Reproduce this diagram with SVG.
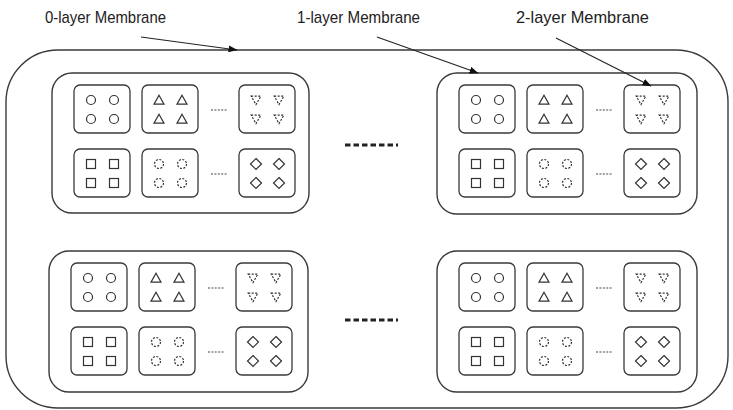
<svg xmlns="http://www.w3.org/2000/svg" xmlns:xlink="http://www.w3.org/1999/xlink" width="733" height="410" viewBox="0 0 733 410">
<style>
.mem{fill:none;stroke:#3a3a3a;stroke-width:1.4}
.box{fill:#fff;stroke:#3a3a3a;stroke-width:1.3}
.sh{fill:none;stroke:#333;stroke-width:1.2}
.dsh{fill:none;stroke:#333;stroke-width:1.2;stroke-dasharray:2 1.5}
.dots{stroke:#444;stroke-width:1.2;stroke-dasharray:2 1.4}
.bigdots{stroke:#222;stroke-width:3;stroke-dasharray:5.5 3}
.lbl{font-family:"Liberation Sans","Noto Sans",sans-serif;font-size:17px;fill:#222}
.arr{stroke:#222;stroke-width:1.1;fill:none}
</style>
<defs>
<marker id="ah" markerWidth="9" markerHeight="7" refX="8.5" refY="3.5" orient="auto" markerUnits="userSpaceOnUse">
<path d="M0,0 L9,3.5 L0,7 Z" fill="#111"/>
</marker>
<circle id="c" r="4.5" class="sh"/>
<path id="t" d="M0,-4.8 L5,4.2 L-5,4.2 Z" class="sh"/>
<path id="vt" d="M-4.8,-3.8 L4.8,-3.8 L0,4.6 Z" class="dsh"/>
<rect id="s" x="-4.5" y="-4.5" width="9" height="9" class="sh"/>
<circle id="dc" r="4.5" class="dsh"/>
<path id="d" d="M0,-5.5 L5.5,0 L0,5.5 L-5.5,0 Z" class="sh"/>
<g id="bC"><rect class="box" width="56" height="48" rx="6"/><use xlink:href="#c" x="17" y="15"/><use xlink:href="#c" x="40" y="15"/><use xlink:href="#c" x="17" y="34"/><use xlink:href="#c" x="40" y="34"/></g>
<g id="bT"><rect class="box" width="56" height="48" rx="6"/><use xlink:href="#t" x="17" y="15"/><use xlink:href="#t" x="40" y="15"/><use xlink:href="#t" x="17" y="34"/><use xlink:href="#t" x="40" y="34"/></g>
<g id="bV"><rect class="box" width="56" height="48" rx="6"/><use xlink:href="#vt" x="17" y="15"/><use xlink:href="#vt" x="40" y="15"/><use xlink:href="#vt" x="17" y="34"/><use xlink:href="#vt" x="40" y="34"/></g>
<g id="bS"><rect class="box" width="56" height="48" rx="6"/><use xlink:href="#s" x="17" y="15"/><use xlink:href="#s" x="40" y="15"/><use xlink:href="#s" x="17" y="34"/><use xlink:href="#s" x="40" y="34"/></g>
<g id="bDC"><rect class="box" width="56" height="48" rx="6"/><use xlink:href="#dc" x="17" y="15"/><use xlink:href="#dc" x="40" y="15"/><use xlink:href="#dc" x="17" y="34"/><use xlink:href="#dc" x="40" y="34"/></g>
<g id="bD"><rect class="box" width="56" height="48" rx="6"/><use xlink:href="#d" x="17" y="15"/><use xlink:href="#d" x="40" y="15"/><use xlink:href="#d" x="17" y="34"/><use xlink:href="#d" x="40" y="34"/></g>
<g id="memInner">
<use xlink:href="#bC" x="22" y="12"/><use xlink:href="#bT" x="90" y="12"/><line class="dots" x1="159" y1="37" x2="176" y2="37"/><use xlink:href="#bV" x="187" y="12"/>
<use xlink:href="#bS" x="22" y="76"/><use xlink:href="#bDC" x="90" y="76"/><line class="dots" x1="159" y1="101" x2="176" y2="101"/><use xlink:href="#bD" x="187" y="76"/>
</g>
</defs>
<rect fill="#fff" width="733" height="410"/>
<g id="layer0">
<rect class="mem" x="6" y="50" width="722" height="358" rx="52"/>
</g>
<g id="membrane-top-left" transform="translate(52,73)">
<rect class="mem" width="257" height="140" rx="20"/>
<use xlink:href="#memInner"/>
</g>
<g id="membrane-top-right" transform="translate(437,73)">
<rect class="mem" width="260" height="141" rx="20"/>
<use xlink:href="#memInner"/>
</g>
<g id="membrane-bottom-left" transform="translate(49,251)">
<rect class="mem" width="259" height="141" rx="20"/>
<use xlink:href="#memInner"/>
</g>
<g id="membrane-bottom-right" transform="translate(437,251)">
<rect class="mem" width="260" height="141" rx="20"/>
<use xlink:href="#memInner"/>
</g>
<g id="ellipsis">
<line class="bigdots" x1="345" y1="145" x2="398" y2="145"/>
<line class="bigdots" x1="345" y1="320" x2="398" y2="320"/>
</g>
<g id="labels">
<text class="lbl" x="45" y="23" textLength="121" lengthAdjust="spacingAndGlyphs">0-layer Membrane</text>
<text class="lbl" x="297" y="23" textLength="123" lengthAdjust="spacingAndGlyphs">1-layer Membrane</text>
<text class="lbl" x="516" y="23" textLength="133" lengthAdjust="spacingAndGlyphs">2-layer Membrane</text>
</g>
<g id="connectors">
<line class="arr" x1="141" y1="37" x2="237" y2="50" marker-end="url(#ah)"/>
<line class="arr" x1="377" y1="37" x2="478" y2="73" marker-end="url(#ah)"/>
<line class="arr" x1="556" y1="38" x2="651" y2="86" marker-end="url(#ah)"/>
</g>
</svg>
